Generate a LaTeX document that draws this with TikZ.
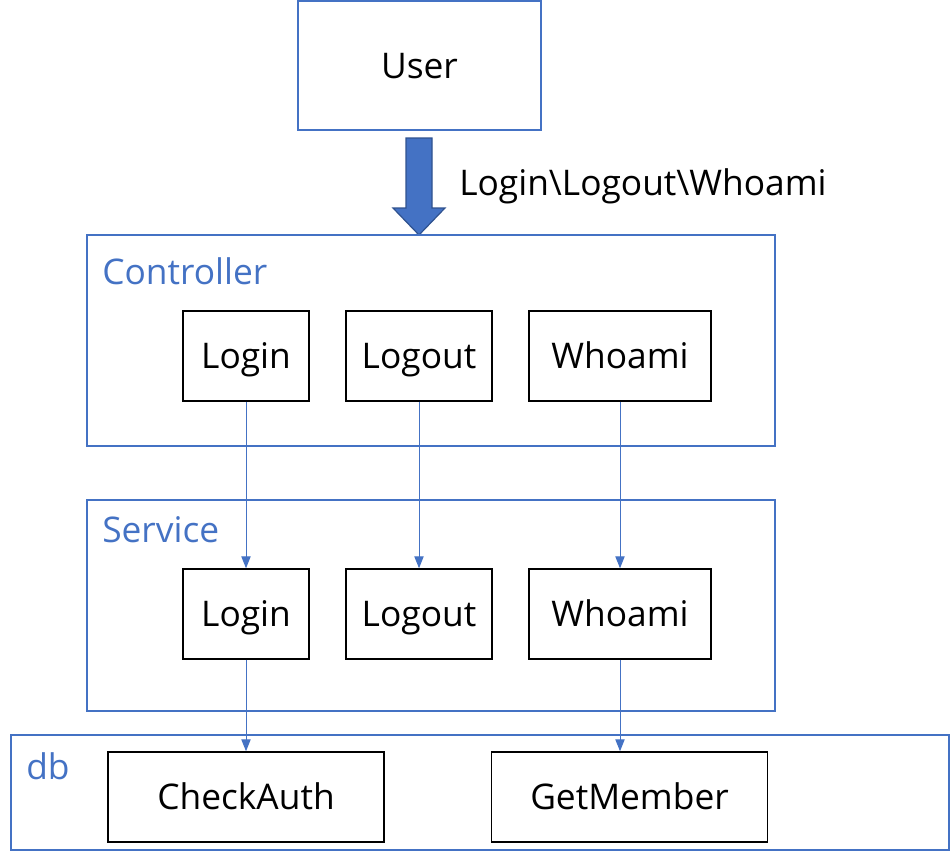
\documentclass[tikz,border=0pt]{standalone}
\usepackage{fontspec}
\setmainfont{Open Sans}
\usetikzlibrary{arrows.meta}
\definecolor{mblue}{HTML}{4472C4}
\definecolor{dblue}{HTML}{2F528F}
\begin{document}
\begin{tikzpicture}[x=0.75pt,y=-0.75pt,
  frame/.style={draw=mblue,line width=1.1pt},
  inner/.style={draw=black,line width=1.1pt},
  txt/.style={font=\fontsize{26.5}{30}\selectfont,text height=18.9pt,text depth=0pt},
  lbl/.style={font=\fontsize{26.5}{30}\selectfont,text height=18.9pt,text depth=0pt,text=mblue,anchor=west,inner sep=0},
  conn/.style={draw=mblue,line width=0.75pt,-{Triangle[length=9pt,width=7pt]}}]
\useasboundingbox (0,0) rectangle (950,851);
% User
\draw[frame] (298,1) rectangle (541,130);
\node[txt] (user) at (419.5,66) {User};
% big arrow
\filldraw[fill=mblue,draw=dblue,line width=0.9pt]
  (406,138) -- (432,138) -- (432,208) -- (445,208) -- (419,235) -- (393,208) -- (406,208) -- cycle;
\node[txt,anchor=west,inner sep=0] (ops) at (459,183) {Login\textbackslash Logout\textbackslash Whoami};
% Controller
\draw[frame] (87,235) rectangle (775,446);
\node[lbl] (ctl) at (102,272) {Controller};
\node[inner,txt,minimum width=126*0.75pt,minimum height=90*0.75pt,inner sep=0] (cl) at (246,356) {Login};
\node[inner,txt,minimum width=146*0.75pt,minimum height=90*0.75pt,inner sep=0] (co) at (419,356) {Logout};
\node[inner,txt,minimum width=182*0.75pt,minimum height=90*0.75pt,inner sep=0] (cw) at (620,356) {Whoami};
% Service
\draw[frame] (87,500) rectangle (775,711);
\node[lbl] (svc) at (102,530) {Service};
\node[inner,txt,minimum width=126*0.75pt,minimum height=90*0.75pt,inner sep=0] (sl) at (246,614) {Login};
\node[inner,txt,minimum width=146*0.75pt,minimum height=90*0.75pt,inner sep=0] (so) at (419,614) {Logout};
\node[inner,txt,minimum width=182*0.75pt,minimum height=90*0.75pt,inner sep=0] (sw) at (620,614) {Whoami};
% db
\draw[frame] (11,735) rectangle (949,850);
\node[lbl] (dbl) at (26,767) {db};
\node[inner,txt,minimum width=276*0.75pt,minimum height=90*0.75pt,inner sep=0] (ca) at (246,797) {CheckAuth};
\node[inner,txt,minimum width=276*0.75pt,minimum height=90*0.75pt,inner sep=0] (gm) at (629.5,797) {GetMember};
% connectors
\draw[conn] (cl.south) -- (sl.north);
\draw[conn] (co.south) -- (so.north);
\draw[conn] (cw.south) -- (sw.north);
\draw[conn] (sl.south) -- (ca.north);
\draw[conn] (sw.south) -- (sw.south |- gm.north);
\end{tikzpicture}
\end{document}
